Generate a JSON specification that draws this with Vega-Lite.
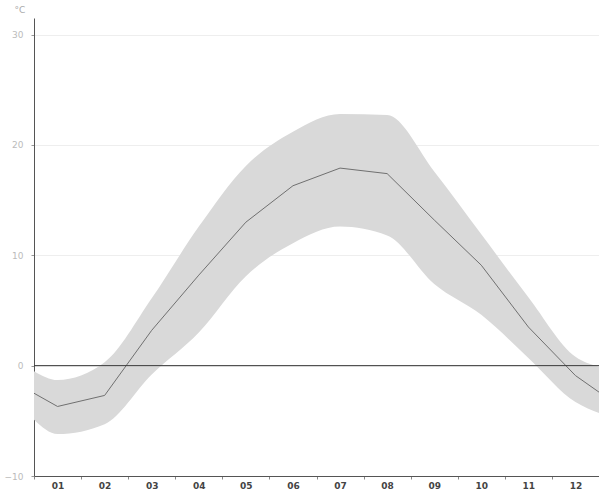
{
  "$schema": "https://vega.github.io/schema/vega-lite/v6.json",
  "autosize": "none",
  "width": 565,
  "height": 458,
  "padding": {"left": 34, "top": 18, "right": 0, "bottom": 14},
  "background": "white",
  "config": {
    "view": {"stroke": null},
    "font": "DejaVu Sans"
  },
  "data": {
    "values": [
      {"month": 0.5, "mean": -2.5, "lo": -4.9, "hi": -0.5},
      {"month": 1, "mean": -3.7, "lo": -6.2, "hi": -1.3},
      {"month": 2, "mean": -2.7, "lo": -5.3, "hi": 0.3},
      {"month": 3, "mean": 3.2, "lo": -0.8, "hi": 6.1},
      {"month": 4, "mean": 8.2, "lo": 3.0, "hi": 12.6},
      {"month": 5, "mean": 13.0, "lo": 8.1, "hi": 18.1},
      {"month": 6, "mean": 16.3, "lo": 11.1, "hi": 21.2},
      {"month": 7, "mean": 17.9, "lo": 12.6, "hi": 22.8},
      {"month": 8, "mean": 17.4, "lo": 11.8, "hi": 22.7},
      {"month": 9, "mean": 13.2, "lo": 7.4, "hi": 17.6},
      {"month": 10, "mean": 9.1, "lo": 4.6, "hi": 11.9},
      {"month": 11, "mean": 3.5, "lo": 0.7, "hi": 6.2},
      {"month": 12, "mean": -0.9, "lo": -3.3, "hi": 0.8},
      {"month": 12.5, "mean": -2.4, "lo": -4.3, "hi": -0.1}
    ]
  },
  "layer": [
    {
      "mark": {"type": "area", "color": "#d9d9d9", "opacity": 1, "interpolate": "monotone"},
      "encoding": {
        "x": {
          "field": "month", "type": "quantitative",
          "scale": {"domain": [0.5, 12.5], "nice": false, "zero": false},
          "axis": {
            "title": null,
            "values": [0.5, 1.5, 2.5, 3.5, 4.5, 5.5, 6.5, 7.5, 8.5, 9.5, 10.5, 11.5, 12.5],
            "labelExpr": "datum.value < 12 ? (datum.value + 0.5 < 10 ? '0' : '') + (datum.value + 0.5) : ''",
            "labelOffset": 23.5,
            "labelFlush": false,
            "labelFontSize": 9,
            "labelFontWeight": "bold",
            "labelColor": "#444",
            "labelPadding": 2,
            "tickSize": 3,
            "tickColor": "#888",
            "domainColor": "#555",
            "grid": false
          }
        },
        "y": {
          "field": "lo", "type": "quantitative",
          "scale": {"domain": [-10, 31.5], "nice": false, "zero": false},
          "axis": {
            "title": "°C",
            "titleAngle": 0,
            "titleFontSize": 9,
            "titleFontWeight": "normal",
            "titleColor": "#aaa",
            "titleX": -20,
            "titleY": -4,
            "titleAlign": "left",
            "values": [-10, 0, 10, 20, 30],
            "labelFontSize": 9,
            "labelColor": "#bbb",
            "labelPadding": 8,
            "tickSize": 3,
            "tickColor": "#999",
            "domainColor": "#555",
            "grid": true,
            "gridColor": "#eeeeee",
            "gridWidth": 1
          }
        },
        "y2": {"field": "hi"}
      }
    },
    {
      "mark": {"type": "line", "color": "#707070", "strokeWidth": 1},
      "encoding": {
        "x": {"field": "month", "type": "quantitative"},
        "y": {"field": "mean", "type": "quantitative"}
      }
    },
    {
      "data": {"values": [{"ref": 0}]},
      "mark": {"type": "rule", "color": "#3a3a3a", "strokeWidth": 1},
      "encoding": {
        "y": {"field": "ref", "type": "quantitative"}
      }
    }
  ]
}
